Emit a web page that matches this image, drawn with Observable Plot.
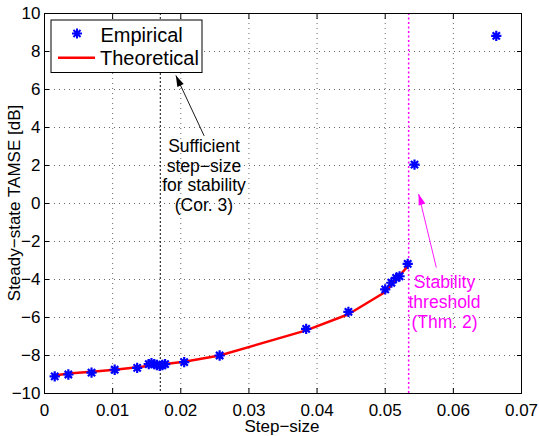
<!DOCTYPE html>
<html>
<head>
<meta charset="utf-8">
<script src="https://cdn.jsdelivr.net/npm/d3@7"></script>
<script src="https://cdn.jsdelivr.net/npm/@observablehq/plot@0.6"></script>
<style>
  html, body { margin: 0; padding: 0; background: #fff; }
  svg { font-family: "Liberation Sans", Arial, sans-serif; }
</style>
</head>
<body>
<div id="chart"></div>
<script>
// Empirical measurements
const empStep = [0.0015, 0.0035, 0.0069, 0.0103, 0.0136, 0.0153, 0.0157, 0.0161, 0.0165, 0.0169, 0.0173, 0.0177, 0.0205, 0.0257, 0.0384, 0.0446, 0.0500, 0.0509, 0.0516, 0.0521, 0.0533, 0.0543, 0.0663];
const empTamse = [-9.1, -9.0, -8.9, -8.75, -8.65, -8.45, -8.4, -8.45, -8.5, -8.55, -8.5, -8.45, -8.35, -8.0, -6.6, -5.7, -4.52, -4.17, -3.91, -3.83, -3.18, 2.05, 8.82];
// Theoretical curve
const theoStep = [0.0015, 0.0035, 0.0069, 0.0103, 0.0136, 0.0165, 0.0205, 0.0257, 0.0384, 0.0446, 0.0500, 0.0509, 0.0533];
const theoTamse = [-9.05, -8.95, -8.85, -8.75, -8.62, -8.5, -8.33, -8.0, -6.68, -5.83, -4.66, -4.3, -3.3];
// Reference step sizes
const corStep = 0.0170;   // Sufficient step-size (Cor. 3)
const thmStep = 0.05344;  // Stability threshold (Thm. 2)
// Tick values
const xTicks = [0, 0.01, 0.02, 0.03, 0.04, 0.05, 0.06, 0.07];
const yTicks = [-10, -8, -6, -4, -2, 0, 2, 4, 6, 8, 10];
// Annotation texts
const corLines = ["Sufficient", "step\u2212size", "for stability", "(Cor. 3)"];
const thmLines = ["Stability", "threshold", "(Thm. 2)"];
const seriesNames = ["Empirical", "Theoretical"];

const emp = empStep.map((x, i) => ({x, y: empTamse[i]}));
const theo = theoStep.map((x, i) => ({x, y: theoTamse[i]}));

const asterisk = {
  draw(ctx, size) {
    const r = Math.sqrt(size) / 2;
    const d = r * Math.SQRT1_2;
    ctx.moveTo(-r, 0); ctx.lineTo(r, 0);
    ctx.moveTo(0, -r); ctx.lineTo(0, r);
    ctx.moveTo(-d, -d); ctx.lineTo(d, d);
    ctx.moveTo(-d, d); ctx.lineTo(d, -d);
  }
};
// narrow filled arrowhead pointing up, tip at origin
const arrowHead = {
  draw(ctx) {
    ctx.moveTo(0, 0); ctx.lineTo(-3.5, 11); ctx.lineTo(3.5, 11); ctx.closePath();
  }
};

const magenta = "#ff00ff";
const fmt = d => d === 0 ? "0" : String(d);
const yfmt = d => d < 0 ? "\u2212" + Math.abs(d) : String(d);

const plot = Plot.plot({
  width: 539,
  height: 436,
  marginLeft: 44,
  marginRight: 18,
  marginTop: 13,
  marginBottom: 43,
  style: {fontFamily: "'Liberation Sans', Arial, sans-serif", fontSize: "17px", background: "#fff", overflow: "visible"},
  x: {domain: [0, 0.07]},
  y: {domain: [-10, 10]},
  marks: [
    Plot.gridX(xTicks, {stroke: "#444", strokeOpacity: 0.8, strokeDasharray: "1,4"}),
    Plot.gridY(yTicks, {stroke: "#444", strokeOpacity: 0.8, strokeDasharray: "1,4"}),
    Plot.ruleX([corStep], {stroke: "#333", strokeWidth: 1.2, strokeDasharray: "2,2"}),
    Plot.ruleX([thmStep], {stroke: magenta, strokeWidth: 1.5, strokeDasharray: "2,2.5"}),
    Plot.axisX({ticks: xTicks, anchor: "bottom", tickSize: 0, tickPadding: 10, tickFormat: fmt, fontSize: 17, label: null}),
    Plot.axisX({ticks: xTicks, anchor: "bottom", tickSize: -5, tickFormat: () => "", label: null}),
    Plot.axisX({ticks: xTicks, anchor: "top", tickSize: -5, tickFormat: () => "", label: null}),
    Plot.axisY({ticks: yTicks, anchor: "left", tickSize: 0, tickPadding: 4, tickFormat: yfmt, fontSize: 17, label: null}),
    Plot.axisY({ticks: yTicks, anchor: "left", tickSize: -5, tickFormat: () => "", label: null}),
    Plot.axisY({ticks: yTicks, anchor: "right", tickSize: -5, tickFormat: () => "", label: null}),
    Plot.frame({stroke: "#000", strokeWidth: 1}),
    Plot.line(theo, {x: "x", y: "y", stroke: "#ff0000", strokeWidth: 2.5}),
    Plot.dot(emp, {x: "x", y: "y", symbol: asterisk, r: 5.8, stroke: "#0000ff", strokeWidth: 2.2}),
    // Cor. 3 annotation
    Plot.link([{x1: 0.02343, y1: 3.56, x2: 0.01928, y2: 6.74}], {x1: "x1", y1: "y1", x2: "x2", y2: "y2", stroke: "#000", strokeWidth: 0.9}),
    Plot.dot([{x: 0.01928, y: 6.74}], {x: "x", y: "y", symbol: arrowHead, fill: "#000", stroke: "none", rotate: -25}),
    Plot.text(corLines, {x: 0.0234, y: (d, i) => 3.0 - i * 1.03, text: d => d, fontSize: 17.5, fill: "#000", textAnchor: "middle"}),
    // Thm. 2 annotation
    Plot.link([{x1: 0.0575, y1: -3.37, x2: 0.0549, y2: 0.5}], {x1: "x1", y1: "y1", x2: "x2", y2: "y2", stroke: magenta, strokeWidth: 0.9}),
    Plot.dot([{x: 0.0549, y: 0.5}], {x: "x", y: "y", symbol: arrowHead, fill: magenta, stroke: "none", rotate: -18}),
    Plot.text(thmLines, {x: 0.0587, y: (d, i) => -4.17 - i * 1.05, text: d => d, fontSize: 17.5, fill: magenta, textAnchor: "middle"}),
  ]
});

const svg = d3.select(plot);
// axis labels
svg.append("text").attr("x", 282).attr("y", 432).attr("text-anchor", "middle")
  .attr("font-size", 17).attr("fill", "#000").text("Step\u2212size");
svg.append("text").attr("transform", "translate(20,203) rotate(-90)").attr("text-anchor", "middle")
  .attr("font-size", 17).attr("fill", "#000").text("Steady\u2212state TAMSE [dB]");
// legend
const lg = svg.append("g");
lg.append("rect").attr("x", 51).attr("y", 20).attr("width", 151).attr("height", 52.5)
  .attr("fill", "#fff").attr("stroke", "#000").attr("stroke-width", 1);
const r = 5, dd = r * Math.SQRT1_2;
lg.append("path").attr("transform", "translate(77,33.5)")
  .attr("d", `M${-r},0L${r},0M0,${-r}L0,${r}M${-dd},${-dd}L${dd},${dd}M${-dd},${dd}L${dd},${-dd}`)
  .attr("stroke", "#0000ff").attr("stroke-width", 2).attr("fill", "none");
lg.append("line").attr("x1", 58).attr("x2", 95).attr("y1", 57.7).attr("y2", 57.7)
  .attr("stroke", "#ff0000").attr("stroke-width", 2.5);
lg.append("text").attr("x", 100.5).attr("y", 41.5).attr("text-anchor", "start").attr("font-size", 20).attr("fill", "#000").text(seriesNames[0]);
lg.append("text").attr("x", 100).attr("y", 64.5).attr("text-anchor", "start").attr("font-size", 20).attr("fill", "#000").text(seriesNames[1]);

document.getElementById("chart").appendChild(plot);
</script>
</body>
</html>
